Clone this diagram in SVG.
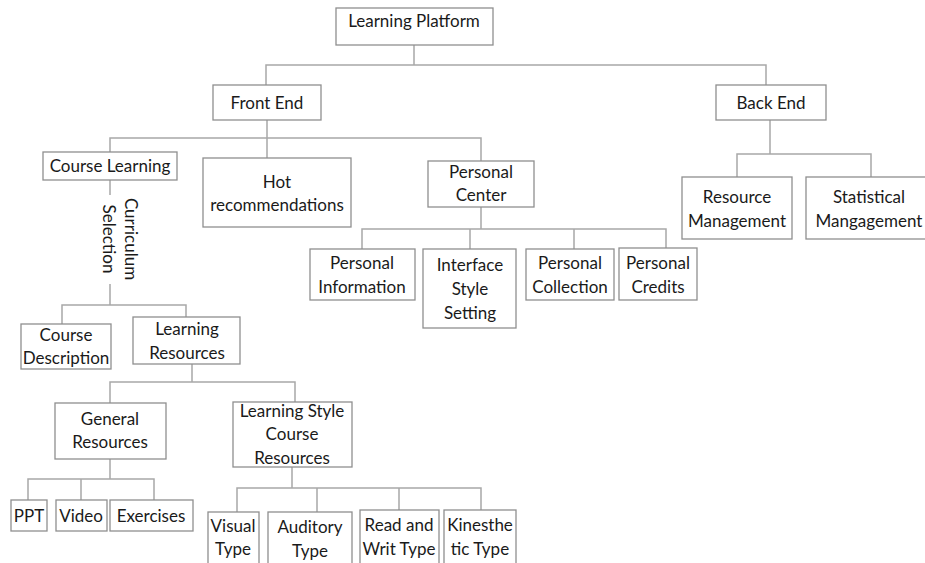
<svg xmlns="http://www.w3.org/2000/svg" width="925" height="563" viewBox="0 0 925 563">
<style>
.b{fill:#fff;stroke:#8f8f8f;stroke-width:1.3}
.t{font-family:Lato,"Liberation Sans",sans-serif;font-size:17px;fill:#1a1a1a;text-anchor:middle}
.c{fill:none;stroke:#a8a8a8;stroke-width:1.5}
</style>
<rect width="925" height="563" fill="#fff"/>
<g id="connectors" class="c">
<path d="M414 45V65M266 85V65H766V85"/>
<path d="M267 120V138M110 152V138H481V161M267 138V158"/>
<path d="M770 120V154M737 177V154H871V177"/>
<path d="M481 207V229M362 249V229H666V248M470 229V249M574 229V249"/>
<path d="M110 180V195M110 284V305M62 324V305H186V317"/>
<path d="M192 364V382M110 403V382H295V402"/>
<path d="M110 459V479M28 500V479H154V500M81 479V500"/>
<path d="M292 467V488M237 512V488H481V510M317 488V512M399 488V510"/>
</g>
<g id="n-learning-platform"><rect class="b" x="336" y="8" width="157" height="37"/><text class="t" x="414" y="27">Learning Platform</text></g>
<g id="n-front-end"><rect class="b" x="213" y="85" width="108" height="35"/><text class="t" x="267" y="109">Front End</text></g>
<g id="n-back-end"><rect class="b" x="716" y="85" width="110" height="35"/><text class="t" x="771" y="109">Back End</text></g>
<g id="n-course-learning"><rect class="b" x="43" y="152" width="134" height="28"/><text class="t" x="110" y="172">Course Learning</text></g>
<g id="n-hot"><rect class="b" x="203" y="158" width="148" height="69"/><text class="t" x="277" y="188">Hot</text><text class="t" x="277" y="211">recommendations</text></g>
<g id="n-personal-center"><rect class="b" x="428" y="161" width="106" height="46"/><text class="t" x="481" y="178">Personal</text><text class="t" x="481" y="201">Center</text></g>
<g id="n-personal-information"><rect class="b" x="310" y="249" width="105" height="51"/><text class="t" x="362" y="269">Personal</text><text class="t" x="362" y="293">Information</text></g>
<g id="n-interface"><rect class="b" x="423" y="249" width="93" height="79"/><text class="t" x="470" y="271">Interface</text><text class="t" x="470" y="295">Style</text><text class="t" x="470" y="319">Setting</text></g>
<g id="n-personal-collection"><rect class="b" x="526" y="249" width="88" height="51"/><text class="t" x="570" y="269">Personal</text><text class="t" x="570" y="293">Collection</text></g>
<g id="n-personal-credits"><rect class="b" x="619" y="248" width="78" height="52"/><text class="t" x="658" y="269">Personal</text><text class="t" x="658" y="293">Credits</text></g>
<g id="n-resource-management"><rect class="b" x="682" y="177" width="110" height="62"/><text class="t" x="737" y="203">Resource</text><text class="t" x="737" y="227">Management</text></g>
<g id="n-statistical"><rect class="b" x="806" y="177" width="130" height="62"/><text class="t" x="869" y="203">Statistical</text><text class="t" x="869" y="227">Mangagement</text></g>
<g id="n-curriculum-selection" transform="translate(120 239) rotate(90)"><text class="t" x="0" y="-5">Curriculum</text><text class="t" x="0" y="17">Selection</text></g>
<g id="n-course-description"><rect class="b" x="21" y="324" width="90" height="45"/><text class="t" x="66" y="341">Course</text><text class="t" x="66" y="364">Description</text></g>
<g id="n-learning-resources"><rect class="b" x="133" y="317" width="107" height="47"/><text class="t" x="187" y="335">Learning</text><text class="t" x="187" y="359">Resources</text></g>
<g id="n-general-resources"><rect class="b" x="55" y="403" width="111" height="56"/><text class="t" x="110" y="425">General</text><text class="t" x="110" y="448">Resources</text></g>
<g id="n-lscr"><rect class="b" x="233" y="402" width="119" height="65"/><text class="t" x="292" y="417">Learning Style</text><text class="t" x="292" y="440">Course</text><text class="t" x="292" y="464">Resources</text></g>
<g id="n-ppt"><rect class="b" x="11" y="500" width="36" height="31"/><text class="t" x="29" y="522">PPT</text></g>
<g id="n-video"><rect class="b" x="56" y="500" width="51" height="31"/><text class="t" x="81" y="522">Video</text></g>
<g id="n-exercises"><rect class="b" x="110" y="500" width="83" height="31"/><text class="t" x="151" y="522">Exercises</text></g>
<g id="n-visual"><rect class="b" x="208" y="512" width="51" height="70"/><text class="t" x="233" y="532">Visual</text><text class="t" x="233" y="555">Type</text></g>
<g id="n-auditory"><rect class="b" x="268" y="512" width="84" height="70"/><text class="t" x="310" y="533">Auditory</text><text class="t" x="310" y="557">Type</text></g>
<g id="n-read-writ"><rect class="b" x="360" y="510" width="79" height="70"/><text class="t" x="399" y="531">Read and</text><text class="t" x="399" y="555">Writ Type</text></g>
<g id="n-kinesthetic"><rect class="b" x="444" y="510" width="72" height="70"/><text class="t" x="480" y="531">Kinesthe</text><text class="t" x="480" y="555">tic Type</text></g>
</svg>
